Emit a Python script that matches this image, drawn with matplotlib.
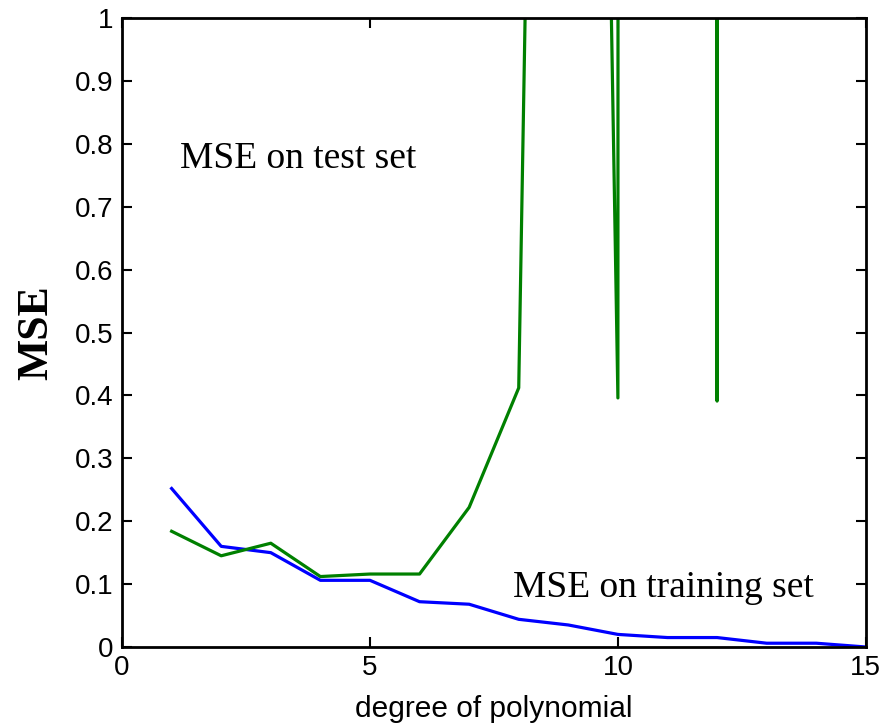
#!/usr/bin/env python3
import numpy as np
import matplotlib.pyplot as plt
plt.switch_backend('agg')

degree = [1, 2, 3, 4, 5, 6, 7, 8, 9, 10, 11, 12, 13, 14, 15]
mse_train = [0.252, 0.160, 0.150, 0.106, 0.106, 0.072, 0.068, 0.044,
             0.035, 0.020, 0.015, 0.015, 0.006, 0.006, 0.0]
mse_test = [0.184, 0.145, 0.165, 0.112, 0.116, 0.116, 0.222, 0.412,
            5.0, 0.396, 300.0, 0.391, 300.0, 500.0, 800.0]


def main():
    fig = plt.figure(figsize=(8.94, 7.25), dpi=100)
    ax = fig.add_axes([0.1365, 0.1076, 0.832, 0.8675])
    ax.plot(degree, mse_train, color=(0, 0, 1), lw=2.3)
    ax.plot(degree, mse_test, color=(0, 0.5, 0), lw=2.3)
    ax.set_xlim(0, 15)
    ax.set_ylim(0, 1)
    ax.set_xticks([0, 5, 10, 15])
    ax.set_yticks(np.arange(0, 1.01, 0.1))
    ax.set_yticklabels(['0', '0.1', '0.2', '0.3', '0.4', '0.5', '0.6',
                        '0.7', '0.8', '0.9', '1'])
    ax.tick_params(direction='in', length=7, width=1.5, top=True, right=True,
                   labelsize=20, pad=6)
    for lab in ax.get_xticklabels() + ax.get_yticklabels():
        lab.set_family('Liberation Sans')
    for s in ax.spines.values():
        s.set_linewidth(2)
    ax.set_xlabel('degree of polynomial', fontsize=21.5, family='Liberation Sans',
                  va='top')
    ax.xaxis.set_label_coords(0.5, -0.077)
    ax.set_ylabel('MSE', fontsize=31.5, family='Liberation Serif',
                  fontweight='bold')
    ax.yaxis.set_label_coords(-0.088, 0.5)
    ax.text(1.17, 0.777, 'MSE on test set', fontsize=27,
            family='Liberation Serif', va='center')
    ax.text(7.88, 0.094, 'MSE on training set', fontsize=27,
            family='Liberation Serif', va='center')
    fig.savefig('out.png', dpi=100)


if __name__ == '__main__':
    main()
